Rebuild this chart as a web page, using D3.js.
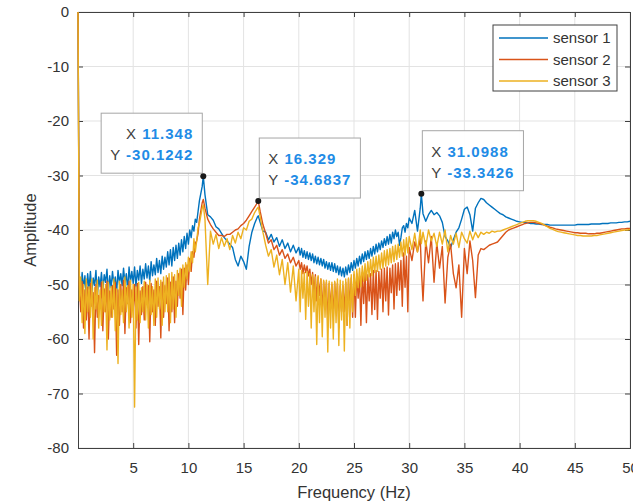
<!DOCTYPE html>
<html>
<head>
<meta charset="utf-8">
<script src="https://cdn.jsdelivr.net/npm/d3@7"></script>
<style>
  body { margin: 0; background: #fff; }
  svg { display: block; font-family: "Liberation Sans", Arial, sans-serif; }
</style>
</head>
<body>
<div id="chart"></div>
<script>
// Frequency axis of the spectra (Hz), one row per Hz (denser where the spectra are noisy)
const freq = [
  0, 0.125, 0.25, 0.375, 0.5, 0.625, 0.75, 0.875,
  1, 1.125, 1.25, 1.375, 1.5, 1.625, 1.75, 1.875,
  2, 2.125, 2.25, 2.375, 2.5, 2.625, 2.75, 2.875,
  3, 3.125, 3.25, 3.375, 3.5, 3.625, 3.75, 3.875,
  4, 4.125, 4.25, 4.375, 4.5, 4.625, 4.75, 4.875,
  5, 5.125, 5.25, 5.375, 5.5, 5.625, 5.75, 5.875,
  6, 6.125, 6.25, 6.375, 6.5, 6.625, 6.75, 6.875,
  7, 7.125, 7.25, 7.375, 7.5, 7.625, 7.75, 7.875,
  8, 8.125, 8.25, 8.375, 8.5, 8.625, 8.75, 8.875,
  9, 9.125, 9.25, 9.375, 9.5, 9.625, 9.75, 9.875,
  10, 10.125, 10.25, 10.375, 10.5, 10.625, 10.75, 10.875,
  11, 11.25, 11.348, 11.5, 11.75,
  12, 12.25, 12.5, 12.75,
  13, 13.25, 13.5, 13.75,
  14, 14.25, 14.5, 14.75,
  15, 15.25, 15.5, 15.75,
  16, 16.25, 16.329, 16.5, 16.75,
  17, 17.25, 17.5, 17.75,
  18, 18.25, 18.5, 18.75,
  19, 19.25, 19.5, 19.75,
  20, 20.125, 20.25, 20.375, 20.5, 20.625, 20.75, 20.875,
  21, 21.125, 21.25, 21.375, 21.5, 21.625, 21.75, 21.875,
  22, 22.125, 22.25, 22.375, 22.5, 22.625, 22.75, 22.875,
  23, 23.125, 23.25, 23.375, 23.5, 23.625, 23.75, 23.875,
  24, 24.125, 24.25, 24.375, 24.5, 24.625, 24.75, 24.875,
  25, 25.125, 25.25, 25.375, 25.5, 25.625, 25.75, 25.875,
  26, 26.125, 26.25, 26.375, 26.5, 26.625, 26.75, 26.875,
  27, 27.125, 27.25, 27.375, 27.5, 27.625, 27.75, 27.875,
  28, 28.125, 28.25, 28.375, 28.5, 28.625, 28.75, 28.875,
  29, 29.125, 29.25, 29.375, 29.5, 29.625, 29.75, 29.875,
  30, 30.25, 30.5, 30.75,
  31, 31.0988, 31.25, 31.5, 31.75,
  32, 32.25, 32.5, 32.75,
  33, 33.25, 33.5, 33.75,
  34, 34.25, 34.5, 34.75,
  35, 35.25, 35.5, 35.75,
  36, 36.25, 36.5, 36.75,
  37, 37.25, 37.5, 37.75,
  38, 38.25, 38.5, 38.75,
  39, 39.25, 39.5, 39.75,
  40, 40.25, 40.5, 40.75,
  41, 41.25, 41.5, 41.75,
  42, 42.25, 42.5, 42.75,
  43, 43.25, 43.5, 43.75,
  44, 44.25, 44.5, 44.75,
  45, 45.25, 45.5, 45.75,
  46, 46.25, 46.5, 46.75,
  47, 47.25, 47.5, 47.75,
  48, 48.25, 48.5, 48.75,
  49, 49.25, 49.5, 49.75,
  50
];

// Amplitude of sensor 1 (blue)
const sensor1 = [
  0, -49, -51.5, -47.8, -50.6, -48.4, -52, -48,
  -50.8, -47.6, -51.4, -48.8, -50.2, -47.4, -52.2, -48.6,
  -50.4, -47.8, -51, -48.2, -49.6, -47.2, -51.6, -48.4,
  -50.6, -47.6, -50, -48.6, -51.4, -47.4, -49.8, -48,
  -50.2, -47, -49.8, -48, -51, -46.8, -49.6, -47.6,
  -49.8, -46.8, -50.4, -47.4, -49.2, -46.6, -49.8, -47.2,
  -49, -46.2, -48.8, -46.6, -49.4, -45.8, -48.4, -46.4,
  -48.2, -45.2, -47.8, -45.6, -48, -44.8, -47.2, -45,
  -46.8, -44, -46.4, -43.6, -46.6, -43.2, -45.6, -42.8,
  -45.2, -42.4, -44.6, -41.8, -44, -41.2, -43.4, -40.6,
  -42.6, -40, -41.4, -39.2, -40.2, -38, -38.6, -36.6,
  -34.6, -32, -30.1242, -33.5, -37.2,
  -37.6, -38.2, -39.4, -39.8,
  -40.6, -41.4, -42, -42.6,
  -43.2, -45.4, -46.6, -44.8,
  -45.8, -47.2, -43, -40.4,
  -38.8, -37.6, -37.4, -38.6, -40.2,
  -40.4, -41.8, -40.8, -42.2,
  -41.4, -43, -41.8, -43.4,
  -42.4, -44, -42.8, -44.2,
  -43.2, -44.6, -43.4, -45, -43.8, -45.2, -44, -45.4,
  -44.2, -45.6, -44.4, -46, -44.8, -46.2, -45, -46.4,
  -45.2, -46.6, -45.4, -47, -45.8, -47.2, -46, -47.4,
  -46, -47.6, -46.2, -47.8, -46.6, -48.2, -46.8, -48.4,
  -47, -48.6, -46.8, -48.2, -46.4, -47.8, -46, -47.4,
  -45.6, -47, -45.2, -46.6, -44.8, -46.2, -44.4, -45.8,
  -44, -45.4, -43.8, -45.2, -43.4, -44.8, -43, -44.4,
  -42.6, -44, -42.4, -43.6, -42, -43.2, -41.6, -42.8,
  -41.2, -42.6, -40.8, -42.4, -40.4, -41.6, -40, -41.2,
  -40.4, -42.8, -41.4, -39.6, -39.2, -40.4, -38.8, -39.6,
  -37.8, -38.8, -36.4, -40.2,
  -36, -33.3426, -37, -38.4, -37.2,
  -36.4, -37.2, -36.8, -37.4,
  -38.6, -41.2, -42, -43.2,
  -41.8, -40.4, -39.6, -38,
  -36.2, -35.8, -37.2, -40.2,
  -36, -35, -34.2, -34.4,
  -35, -35.4, -35.8, -36.2,
  -36.6, -37, -37.2, -37.6,
  -37.8, -38, -38.2, -38.4,
  -38.5, -38.6, -38.6, -38.7,
  -38.8, -38.8, -38.9, -38.9,
  -39, -39, -39, -39.1,
  -39.1, -39.1, -39.1, -39.1,
  -39.1, -39.1, -39.1, -39.1,
  -39.1, -39, -39, -39,
  -39, -39, -38.9, -38.9,
  -38.9, -38.9, -38.8, -38.8,
  -38.8, -38.7, -38.7, -38.7,
  -38.6, -38.6, -38.5, -38.5,
  -38.4
];

// Amplitude of sensor 2 (orange)
const sensor2 = [
  0, -50, -55, -49.5, -58, -51, -56.5, -50.5,
  -60, -49.8, -54, -51.5, -62.5, -50, -56, -52,
  -53.5, -49.6, -58.5, -50.8, -55, -49.4, -60, -51.2,
  -56, -50.2, -54.5, -49.6, -63, -51, -57.5, -50,
  -55, -49.2, -59, -50.6, -53.5, -49.4, -57, -51,
  -54.5, -50, -58, -49.8, -61, -51.2, -55.5, -50.4,
  -56.5, -49.6, -53.5, -50.2, -60.5, -49.8, -55, -51,
  -57.5, -49.4, -54, -50.4, -59.8, -49.6, -56, -50.2,
  -53.5, -48.8, -58.5, -49.6, -55, -48.6, -57, -49.4,
  -54, -48, -52.5, -47.2, -55.5, -47, -51, -46.4,
  -50, -45.2, -47.6, -44, -45, -42.4, -42, -40.6,
  -38, -35, -34.4, -36, -38,
  -39, -39.8, -40.4, -41,
  -41, -41.2, -40.8, -40.8,
  -40.4, -40, -39.8, -39.2,
  -38.8, -38.2, -37.4, -36.6,
  -35.8, -35, -34.6837, -36.6, -39,
  -40.6, -42.4, -41.8, -43.6,
  -42.8, -44.6, -43.6, -45.2,
  -44.4, -46, -45, -46.6,
  -45.6, -47.2, -46, -48, -46.4, -47.8, -46.6, -48.4,
  -47.2, -50, -47.8, -51.5, -48.2, -53, -48.6, -52,
  -49, -55, -49.4, -53, -49.6, -57, -49.8, -54.5,
  -50, -56, -49.6, -53.5, -49.8, -58, -50.2, -55,
  -50.2, -55, -49.6, -57.5, -49, -54, -48.8, -56,
  -48.2, -56, -48, -52.5, -48.5, -57.5, -47.8, -53.5,
  -47.6, -57, -48.2, -53, -48, -55.5, -47.4, -54.6,
  -47.4, -56.4, -47.6, -52.5, -47.2, -55, -47, -53,
  -46.8, -55.6, -47, -51.5, -46.4, -54.5, -46.2, -52,
  -46, -51, -45.6, -54, -44.2, -50.5, -44.8, -55,
  -43.2, -45.6, -42.2, -44,
  -41.6, -47, -53, -42, -46,
  -41.2, -49.6, -42.4, -47,
  -43, -53.4, -45, -42.6,
  -48, -50.6, -46.4, -56,
  -43.4, -48, -42, -45.6,
  -52.4, -44.6, -43.4, -43.6,
  -43.2, -42.8, -42.6, -42.4,
  -42.2, -41.6, -41, -40.4,
  -40, -39.8, -39.6, -39.4,
  -39.2, -39, -38.8, -38.7,
  -38.6, -38.6, -38.7, -38.8,
  -38.9, -39.1, -39.3, -39.5,
  -39.6, -39.8, -39.9, -40,
  -40.1, -40.2, -40.3, -40.4,
  -40.5, -40.5, -40.6, -40.6,
  -40.6, -40.7, -40.7, -40.7,
  -40.6, -40.6, -40.5, -40.4,
  -40.3, -40.2, -40.1, -40,
  -39.9, -39.8, -39.8, -39.7,
  -39.7
];

// Amplitude of sensor 3 (yellow)
const sensor3 = [
  0, -53, -48.6, -57, -50, -59, -49, -55,
  -50.4, -56, -49, -60, -50.6, -54.5, -49.2, -58,
  -51, -57.5, -49.4, -55, -50, -62, -49.6, -56.5,
  -50.4, -56, -49, -58.5, -50.8, -64.5, -49.4, -55.5,
  -51, -57, -48.6, -55, -50.2, -58, -49.2, -56,
  -50, -72.5, -50.4, -56.5, -49.6, -57, -50.6, -55,
  -49.4, -56.5, -50, -58, -49.2, -55.5, -50.4, -57.5,
  -49, -56, -48.8, -54.5, -49.2, -57.5, -48.6, -55,
  -48.4, -55, -48, -57, -47.8, -54.5, -48.2, -56,
  -47.4, -52, -47, -54, -46.4, -50.5, -46, -49,
  -45, -47.6, -44, -46, -41.6, -44, -42, -39.6,
  -38.8, -36, -35.4, -38, -50,
  -40.2, -42.6, -40.8, -43.4,
  -41.4, -43, -41.6, -43.6,
  -41, -42.4, -40.4, -41.6,
  -39.6, -40, -38.4, -38,
  -36.8, -36, -35.8, -37.6, -40.4,
  -42.8, -44.8, -43.6, -46.8,
  -44.6, -48.2, -45.4, -50,
  -46, -51.4, -46.6, -53,
  -47.2, -55, -47.4, -52.5, -47.8, -56.4, -47.6, -54,
  -48, -58, -48.2, -55, -48.6, -61, -48.4, -57,
  -49, -59.6, -49.2, -56, -49.2, -62.4, -49.4, -58,
  -49.6, -60, -49.4, -57, -49, -61.2, -49.2, -56.5,
  -49.4, -62.2, -49, -57.5, -48.8, -58, -48.2, -55,
  -47.6, -52, -47.2, -50.6, -47, -50.4, -46.6, -49.4,
  -46.2, -49.2, -45.8, -48.6, -45.4, -48.4, -45, -47.8,
  -44.8, -47.6, -44.6, -47.2, -44.2, -47, -43.8, -46.6,
  -43.6, -46.4, -43.4, -46, -43, -45.8, -42.8, -45.4,
  -42.6, -45, -42.2, -44.8, -41.8, -44.6, -41.4, -44.2,
  -41.2, -43.6, -40.6, -44,
  -40, -42.5, -40.4, -43, -40,
  -42, -40.6, -43, -40.4,
  -42.6, -40, -44, -41,
  -42.6, -40.6, -43.2, -40.4,
  -41.6, -42.4, -40.2, -41.8,
  -40.4, -41.4, -40.4, -40.8,
  -40.4, -40.6, -40.2, -40.4,
  -40.2, -40.2, -40, -39.8,
  -39.6, -39.4, -39.2, -39,
  -38.8, -38.6, -38.4, -38.3,
  -38.3, -38.3, -38.4, -38.6,
  -38.8, -39.1, -39.4, -39.7,
  -39.9, -40.1, -40.3, -40.4,
  -40.5, -40.6, -40.7, -40.8,
  -40.9, -41, -41, -41.1,
  -41.1, -41.1, -41.1, -41,
  -41, -40.9, -40.8, -40.7,
  -40.6, -40.5, -40.4, -40.3,
  -40.2, -40.1, -40, -40,
  -39.9
];

const seriesNames = ['sensor 1', 'sensor 2', 'sensor 3'];
const seriesColors = ['#0072BD', '#D95319', '#EDB120'];
const seriesValues = [sensor1, sensor2, sensor3];

// Tick labels
const xTicks = [5, 10, 15, 20, 25, 30, 35, 40, 45, 50];
const yTicks = [0, -10, -20, -30, -40, -50, -60, -70, -80];

// Data tips: frequency, amplitude and the side the box sits on
const tipX = [11.348, 16.329, 31.0988];
const tipY = [-30.1242, -34.6837, -33.3426];
const tipSide = ['left', 'right', 'right'];

// Sizes of the picture and of the plot area
const width = 633;
const height = 504;
const plotLeft = 78;
const plotRight = 630;
const plotTop = 12;
const plotBottom = 448;

const svg = d3.select('#chart').append('svg')
    .attr('width', width)
    .attr('height', height);

svg.append('rect')
    .attr('width', width)
    .attr('height', height)
    .attr('fill', '#fff');

const xScale = d3.scaleLinear().domain([0, 50]).range([plotLeft, plotRight]);
const yScale = d3.scaleLinear().domain([-80, 0]).range([plotBottom, plotTop]);

// Grid
svg.append('g')
    .selectAll('line')
    .data(xTicks)
    .enter()
    .append('line')
    .attr('x1', d => xScale(d))
    .attr('x2', d => xScale(d))
    .attr('y1', plotTop)
    .attr('y2', plotBottom)
    .attr('stroke', '#e3e3e3')
    .attr('stroke-width', 1);

svg.append('g')
    .selectAll('line')
    .data(yTicks)
    .enter()
    .append('line')
    .attr('x1', plotLeft)
    .attr('x2', plotRight)
    .attr('y1', d => yScale(d))
    .attr('y2', d => yScale(d))
    .attr('stroke', '#e3e3e3')
    .attr('stroke-width', 1);

// Axes with inward ticks (MATLAB style), plain hyphen for negatives
const axisColor = '#404040';
const plainFormat = d => String(d);

const xAxis = svg.append('g')
    .attr('transform', `translate(0,${plotBottom})`)
    .call(d3.axisBottom(xScale).tickValues(xTicks).tickSize(-5).tickPadding(14).tickFormat(plainFormat));

const yAxis = svg.append('g')
    .attr('transform', `translate(${plotLeft},0)`)
    .call(d3.axisLeft(yScale).tickValues(yTicks).tickSize(-5).tickPadding(9).tickFormat(plainFormat));

const topAxis = svg.append('g')
    .attr('transform', `translate(0,${plotTop})`)
    .call(d3.axisTop(xScale).tickValues(xTicks).tickSize(-5).tickFormat(''));

const rightAxis = svg.append('g')
    .attr('transform', `translate(${plotRight},0)`)
    .call(d3.axisRight(yScale).tickValues(yTicks).tickSize(-5).tickFormat(''));

[xAxis, yAxis, topAxis, rightAxis].forEach(a => {
    a.select('.domain').attr('stroke', axisColor);
    a.selectAll('.tick line').attr('stroke', axisColor);
    a.selectAll('.tick text')
        .attr('fill', '#333')
        .style('font-family', '"Liberation Sans", Arial, sans-serif')
        .style('font-size', '15px');
});

// Clip for the spectra (a pixel wider on the left so the DC line sits on the axis)
svg.append('clipPath')
    .attr('id', 'plot-clip')
    .append('rect')
    .attr('x', plotLeft - 1)
    .attr('y', plotTop)
    .attr('width', plotRight - plotLeft + 1)
    .attr('height', plotBottom - plotTop);

const line = d3.line()
    .x((d, i) => xScale(freq[i]))
    .y(d => yScale(d));

// Spectra drawn over the axes, as in the reference
svg.append('g')
    .attr('clip-path', 'url(#plot-clip)')
    .selectAll('path')
    .data(seriesValues)
    .enter()
    .append('path')
    .attr('d', d => line(d))
    .attr('fill', 'none')
    .attr('stroke', (d, i) => seriesColors[i])
    .attr('stroke-width', 1.4)
    .attr('stroke-linejoin', 'round');

// Axis titles
svg.append('text')
    .attr('x', (plotLeft + plotRight) / 2)
    .attr('y', 498)
    .attr('text-anchor', 'middle')
    .attr('fill', '#333')
    .style('font-size', '16.5px')
    .text('Frequency (Hz)');

svg.append('text')
    .attr('transform', `translate(36,${(plotTop + plotBottom) / 2}) rotate(-90)`)
    .attr('text-anchor', 'middle')
    .attr('fill', '#333')
    .style('font-size', '16.5px')
    .text('Amplitude');

// Legend
const legend = svg.append('g').attr('transform', 'translate(493,25)');

legend.append('rect')
    .attr('width', 124)
    .attr('height', 66)
    .attr('fill', '#fff')
    .attr('stroke', axisColor)
    .attr('stroke-width', 1);

const legendRow = legend.selectAll('.legend-row')
    .data(seriesNames)
    .enter()
    .append('g')
    .attr('class', 'legend-row')
    .attr('transform', (d, i) => `translate(0,${13 + i * 21.5})`);

legendRow.append('line')
    .attr('x1', 6)
    .attr('x2', 55)
    .attr('stroke', (d, i) => seriesColors[i])
    .attr('stroke-width', 1.5);

legendRow.append('text')
    .attr('x', 60)
    .attr('dy', '0.35em')
    .attr('fill', '#333')
    .style('font-size', '15px')
    .text(d => d);

// Data tips
tipX.forEach((fx, i) => {
    const mx = xScale(fx);
    const my = yScale(tipY[i]);
    const g = svg.append('g');

    const box = g.append('rect')
        .attr('fill', '#fff')
        .attr('fill-opacity', 0.95)
        .attr('stroke', '#a6a6a6')
        .attr('stroke-width', 1);

    const rows = [['X', fx], ['Y', tipY[i]]];
    const texts = rows.map(r => {
        const t = g.append('text')
            .style('font-size', '15px')
            .style('letter-spacing', '1px');
        t.append('tspan').attr('fill', '#404040').text(r[0] + ' ');
        t.append('tspan').attr('fill', '#1f8ce6').attr('font-weight', 'bold').text(r[1]);
        return t;
    });

    const textWidth = d3.max(texts, t => t.node().getComputedTextLength());
    const boxW = textWidth + 18;
    const boxH = 60;
    const boxBottom = my - 3;
    const boxLeft = tipSide[i] === 'left' ? mx - 1 - boxW : mx + 1;

    box.attr('x', boxLeft)
        .attr('y', boxBottom - boxH)
        .attr('width', boxW)
        .attr('height', boxH);

    texts.forEach((t, k) => {
        t.attr('y', boxBottom - boxH + 26 + k * 21);
        if (tipSide[i] === 'left') {
            t.attr('x', boxLeft + boxW - 9).attr('text-anchor', 'end');
        } else {
            t.attr('x', boxLeft + 9).attr('text-anchor', 'start');
        }
    });

    g.append('circle')
        .attr('cx', mx)
        .attr('cy', my)
        .attr('r', 3)
        .attr('fill', '#1a1a1a');
});
</script>
</body>
</html>
